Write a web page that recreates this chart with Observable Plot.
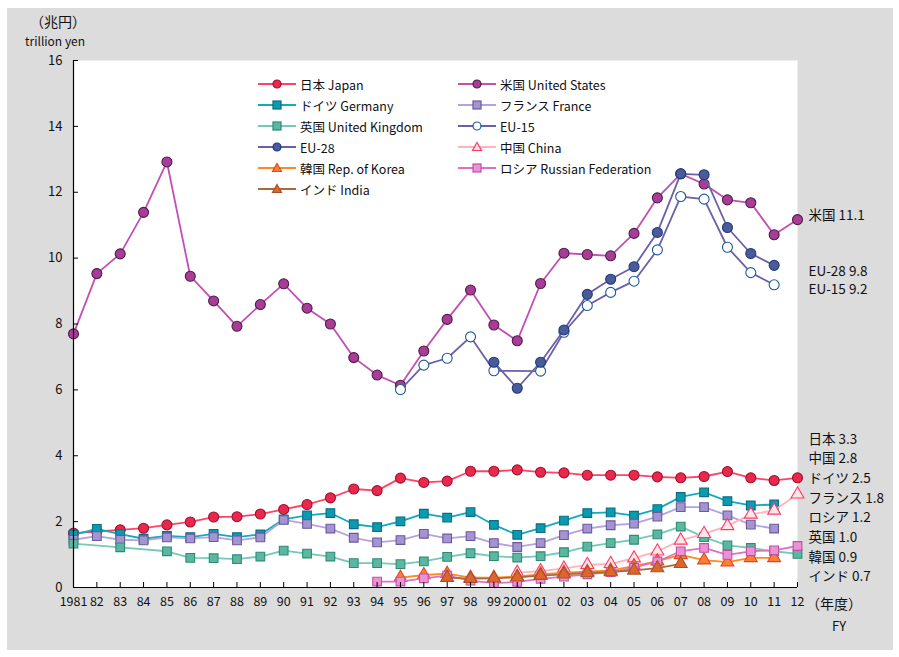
<!DOCTYPE html>
<html><head><meta charset="utf-8">
<script src="https://cdn.jsdelivr.net/npm/d3@7"></script>
<script src="https://cdn.jsdelivr.net/npm/@observablehq/plot@0.6"></script>
<style>
html,body{margin:0;padding:0;background:#fff;}
#wrap{position:relative;width:899px;height:657px;font-family:"Noto Sans CJK JP","Noto Sans",sans-serif;color:#111;overflow:hidden;}
#panel{position:absolute;left:7px;top:8px;width:886px;height:642px;background:#dcdcdc;}
#chart{position:absolute;left:0;top:0;}
.ann{position:absolute;white-space:nowrap;line-height:1;}
.li{position:absolute;display:flex;align-items:center;height:18px;white-space:nowrap;font-size:12.5px;}
.li svg{margin-right:4px;}
</style></head><body>
<div id="wrap"><div id="panel"></div><div id="chart"></div>
<div class="ann" style="left:30px;top:14px;font-size:14px;">（兆円）</div>
<div class="ann" style="left:25px;top:35px;font-size:12px;">trillion yen</div>
<div class="ann" style="left:806px;top:596px;font-size:14px;">（年度）</div>
<div class="ann" style="left:832px;top:619px;font-size:13px;">FY</div>
</div>
<script>
const years = [1981,1982,1983,1984,1985,1986,1987,1988,1989,1990,1991,1992,1993,1994,1995,1996,1997,1998,1999,2000,2001,2002,2003,2004,2005,2006,2007,2008,2009,2010,2011,2012];
const yTicks = [0,2,4,6,8,10,12,14,16];

const japan   = [1.65,1.70,1.75,1.80,1.90,1.99,2.14,2.15,2.23,2.37,2.52,2.72,2.99,2.94,3.32,3.19,3.23,3.53,3.53,3.57,3.50,3.48,3.41,3.41,3.41,3.36,3.33,3.37,3.52,3.33,3.25,3.33];
const usa     = [7.70,9.53,10.13,11.39,12.92,9.45,8.70,7.93,8.59,9.22,8.48,8.00,6.98,6.45,6.14,7.18,8.14,9.03,7.97,7.49,9.23,10.15,10.11,10.07,10.75,11.83,12.56,12.25,11.77,11.68,10.71,11.17];
const germany = [1.60,1.78,1.62,1.48,1.57,1.53,1.63,1.53,1.61,2.07,2.19,2.26,1.92,1.83,2.01,2.24,2.12,2.29,1.90,1.60,1.80,2.03,2.26,2.28,2.18,2.38,2.75,2.89,2.62,2.49,2.52,null];
const france  = [1.45,1.56,1.45,1.43,1.52,1.49,1.53,1.43,1.52,2.05,1.93,1.79,1.51,1.37,1.44,1.63,1.49,1.56,1.35,1.23,1.35,1.59,1.79,1.89,1.94,2.15,2.44,2.44,2.19,1.91,1.79,null];
const uk      = [1.33,null,1.22,null,1.10,0.90,0.89,0.86,0.94,1.12,1.03,0.94,0.74,0.74,0.71,0.79,0.93,1.04,0.95,0.91,0.95,1.07,1.24,1.35,1.45,1.61,1.85,1.53,1.28,1.20,1.10,1.02];
const eu15    = [null,null,null,null,null,null,null,null,null,null,null,null,null,null,6.01,6.75,6.96,7.61,6.58,null,6.57,7.75,8.56,8.96,9.30,10.25,11.87,11.79,10.33,9.56,9.19,null];
const eu28    = [null,null,null,null,null,null,null,null,null,null,null,null,null,null,null,null,null,null,6.84,6.05,6.84,7.82,8.90,9.36,9.74,10.78,12.56,12.53,10.93,10.14,9.78,null];
const china   = [null,null,null,null,null,null,null,null,null,null,null,null,null,null,null,null,null,null,null,0.45,0.50,0.58,0.69,0.72,0.89,1.10,1.43,1.63,1.87,2.22,2.34,2.83];
const korea   = [null,null,null,null,null,null,null,null,null,null,null,null,null,null,0.30,0.38,0.42,0.30,0.30,0.33,0.40,0.45,0.48,0.52,0.65,0.80,0.99,0.83,0.77,0.90,0.90,null];
const russia  = [null,null,null,null,null,null,null,null,null,null,null,null,null,0.18,0.18,0.28,0.36,0.21,0.13,0.17,0.26,0.33,0.40,0.47,0.60,0.79,1.10,1.20,0.99,1.10,1.13,1.26];
const india   = [null,null,null,null,null,null,null,null,null,null,null,null,null,null,null,null,0.30,0.27,0.28,0.31,0.36,0.40,0.44,0.47,0.52,0.59,0.72,null,null,null,null,null];

const series = [
  {name:"日本 Japan", values:japan, line:"#ff4266", fill:"#e8294d", stroke:"#a0102c", symbol:"circle"},
  {name:"米国 United States", values:usa, line:"#c24fb4", fill:"#a73d97", stroke:"#4e1e48", symbol:"circle"},
  {name:"ドイツ Germany", values:germany, line:"#12aabd", fill:"#0a9bb0", stroke:"#0b6c82", symbol:"square"},
  {name:"フランス France", values:france, line:"#b3a3de", fill:"#a594d2", stroke:"#6a5a9c", symbol:"square"},
  {name:"英国 United Kingdom", values:uk, line:"#74c9b9", fill:"#5cb7a2", stroke:"#2c8c72", symbol:"square"},
  {name:"EU-15", values:eu15, line:"#6b60a8", fill:"#ffffff", stroke:"#1b5c9c", symbol:"circle"},
  {name:"EU-28", values:eu28, line:"#6b60a8", fill:"#4b5b99", stroke:"#1c3c7c", symbol:"circle"},
  {name:"中国 China", values:china, line:"#ffb3bb", fill:"#ffe4e8", stroke:"#ff3a64", symbol:"triangle"},
  {name:"韓国 Rep. of Korea", values:korea, line:"#ff8a22", fill:"#ff7f30", stroke:"#e4452a", symbol:"triangle"},
  {name:"ロシア Russian Federation", values:russia, line:"#e070c4", fill:"#ea92d4", stroke:"#c050a6", symbol:"square"},
  {name:"インド India", values:india, line:"#aa6a3a", fill:"#e0652a", stroke:"#a4542a", symbol:"triangle"}
];

const endLabels = [
  {text:"米国 11.1", ref:"米国 United States", dy:-4},
  {text:"EU-28 9.8", ref:"EU-28", dy:6},
  {text:"EU-15 9.2", ref:"EU-15", dy:5}
];
const stackLabels = ["日本 3.3","中国 2.8","ドイツ 2.5","フランス 1.8","ロシア 1.2","英国 1.0","韓国 0.9","インド 0.7"];

const legendCol1 = ["日本 Japan","ドイツ Germany","英国 United Kingdom","EU-28","韓国 Rep. of Korea","インド India"];
const legendCol2 = ["米国 United States","フランス France","EU-15","中国 China","ロシア Russian Federation"];

function pts(s){ return years.map((yr,i)=>({year:yr, value:s.values[i]})).filter(d=>d.value!=null); }
function rSym(sym){ return sym==="circle"?5:(sym==="square"?4.9:4.8); }

const marks = [Plot.frame({fill:"white", stroke:"none"})];
for (const s of series) {
  const d = pts(s);
  marks.push(Plot.line(d, {x:"year", y:"value", stroke:s.line, strokeWidth:1.8}));
  marks.push(Plot.dot(d, {x:"year", y:"value", symbol:()=>s.symbol, r:rSym(s.symbol), fill:s.fill, stroke:s.stroke, strokeWidth:1.1}));
}
marks.push(
  Plot.ruleX([years[0]], {stroke:"#000", strokeWidth:1.2}),
  Plot.ruleY([0], {stroke:"#000", strokeWidth:1.2}),
  Plot.tickX(years, {x:d=>d, insetTop:522, stroke:"#000"}),
  Plot.tickY(yTicks, {y:d=>d, insetRight:719, stroke:"#000"}),
  Plot.axisX({ticks:years, tickSize:0, tickPadding:10, fontSize:12.5, label:null,
    tickFormat:d=> (d===1981||d===2000) ? String(d) : String(d%100).padStart(2,"0")}),
  Plot.axisY({ticks:yTicks, tickSize:0, tickPadding:11, fontSize:13, label:null})
);
for (const l of endLabels) {
  const s = series.find(q=>q.name===l.ref);
  const d = pts(s);
  marks.push(Plot.text([d[d.length-1].value], {x:years[years.length-1], y:d=>d, text:()=>l.text, dx:11, dy:l.dy, textAnchor:"start", fontSize:13.5, fill:"#111"}));
}
stackLabels.forEach((t,i)=>{
  marks.push(Plot.text([t], {x:years[years.length-1], frameAnchor:"bottom", text:d=>d, dx:11, dy:-144+i*19.7, textAnchor:"start", fontSize:13.5, fill:"#111"}));
});

const chart = Plot.plot({
  width:899, height:657, marginLeft:73, marginRight:102, marginTop:60, marginBottom:70,
  x:{domain:[years[0], years[years.length-1]], label:null},
  y:{domain:[yTicks[0], yTicks[yTicks.length-1]], label:null},
  style:{background:"transparent", fontFamily:'"Noto Sans CJK JP","Noto Sans",sans-serif', color:"#111", overflow:"visible"},
  marks
});
document.getElementById("chart").appendChild(chart);

// legend
function swatch(s){
  let m;
  if (s.symbol==="circle") m = `<circle cx="19" cy="6" r="4" fill="${s.fill}" stroke="${s.stroke}" stroke-width="1.2"/>`;
  else if (s.symbol==="square") m = `<rect x="15" y="2" width="8" height="8" fill="${s.fill}" stroke="${s.stroke}" stroke-width="1.2"/>`;
  else m = `<path d="M19,1.5L23.5,9.5L14.5,9.5Z" fill="${s.fill}" stroke="${s.stroke}" stroke-width="1.2"/>`;
  return `<svg width="38" height="12"><line x1="0" y1="6" x2="38" y2="6" stroke="${s.line}" stroke-width="2"/>${m}</svg>`;
}
function addCol(list, left){
  list.forEach((n,i)=>{
    const s = series.find(q=>q.name===n);
    const div = document.createElement("div");
    div.className="li";
    div.style.left = left+"px";
    div.style.top = (75 + i*21) + "px";
    div.innerHTML = swatch(s) + `<span>${n}</span>`;
    document.getElementById("wrap").appendChild(div);
  });
}
addCol(legendCol1, 258);
addCol(legendCol2, 458);
</script>
</body></html>
